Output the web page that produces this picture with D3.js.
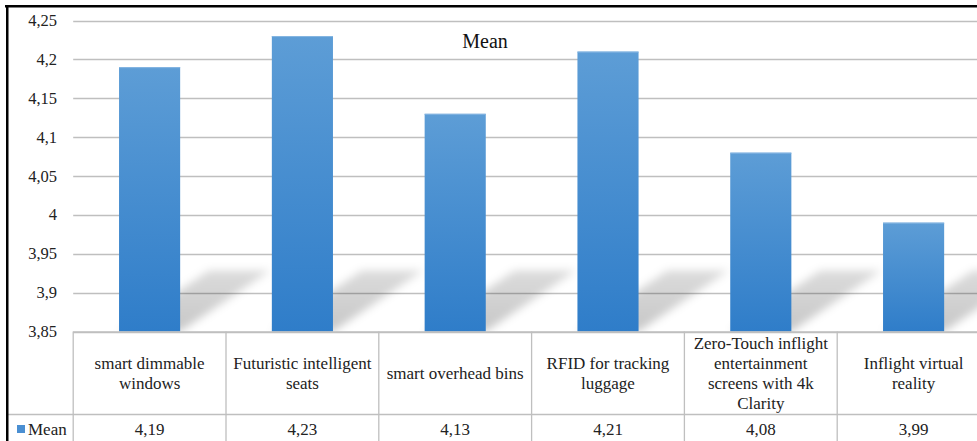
<!DOCTYPE html>
<html>
<head>
<meta charset="utf-8">
<script src="https://cdn.jsdelivr.net/npm/d3@7"></script>
<style>
  html, body { margin: 0; padding: 0; background: #fff; }
  svg { display: block; }
</style>
</head>
<body>
<svg id="chart" width="977" height="441"></svg>
<script>
// ---- data ----
const chartTitle = "Mean";
const seriesName = "Mean";
const categories = [
  "smart dimmable\nwindows",
  "Futuristic intelligent\nseats",
  "smart overhead bins",
  "RFID for tracking\nluggage",
  "Zero-Touch inflight\nentertainment\nscreens with 4k\nClarity",
  "Inflight virtual\nreality"
];
const meanValues = [4.19, 4.23, 4.13, 4.21, 4.08, 3.99];
const yTicks = [3.85, 3.9, 3.95, 4, 4.05, 4.1, 4.15, 4.2, 4.25];
const yDomain = [3.85, 4.25];

// ---- layout ----
const W = 977, H = 441;
const FONT = "Liberation Serif";
const plotLeft = 73.2, plotRight = 990, plotTop = 20.5, plotBottom = 331.5;
const tableRowSplit = 414.5, tableBottom = 441;
const gridColor = "#bfbfbf";

const svg = d3.select("#chart");
const locale = d3.formatLocale({decimal: ",", thousands: " ", grouping: [3], currency: ["", ""]});
const fmtTick = locale.format("~f");
const fmtVal = locale.format(".2f");

const x = d3.scaleBand().domain(categories).range([plotLeft, plotRight]).paddingInner(0.6).paddingOuter(0.3);
const xCell = d3.scaleBand().domain(categories).range([plotLeft, plotRight]).padding(0);
const y = d3.scaleLinear().domain(yDomain).range([plotBottom, plotTop]);

const defs = svg.append("defs");
const grad = defs.append("linearGradient").attr("id", "barGrad")
  .attr("x1", 0).attr("y1", 0).attr("x2", 0).attr("y2", 1);
grad.append("stop").attr("offset", "0%").attr("stop-color", "#5d9dd6");
grad.append("stop").attr("offset", "100%").attr("stop-color", "#2f7dc9");

const blur = defs.append("filter").attr("id", "shBlur")
  .attr("x", "-30%").attr("y", "-30%").attr("width", "160%").attr("height", "160%");
blur.append("feGaussianBlur").attr("stdDeviation", 4);

const shGrad = defs.append("linearGradient").attr("id", "shGrad")
  .attr("x1", 0).attr("y1", 0).attr("x2", 0).attr("y2", 1);
shGrad.append("stop").attr("offset", "0%").attr("stop-color", "#000").attr("stop-opacity", 0.14);
shGrad.append("stop").attr("offset", "100%").attr("stop-color", "#000").attr("stop-opacity", 0.22);

const clip = defs.append("clipPath").attr("id", "plotClip");
clip.append("rect").attr("x", plotLeft).attr("y", plotTop - 5)
  .attr("width", plotRight - plotLeft).attr("height", plotBottom - plotTop + 5);

// gridlines
svg.append("g").selectAll("line").data(yTicks).join("line")
  .attr("x1", plotLeft).attr("x2", W)
  .attr("y1", d => Math.round(y(d)) + 0.5).attr("y2", d => Math.round(y(d)) + 0.5)
  .attr("stroke", gridColor).attr("stroke-width", 1.3);

// y axis labels
svg.append("g").selectAll("text").data(yTicks).join("text")
  .style("font-family", FONT)
  .attr("x", 57).attr("y", d => y(d) + 5.5)
  .attr("text-anchor", "end").attr("font-size", 16.5).attr("fill", "#222")
  .text(d => fmtTick(d));

// shadows
const shH = 61, shDx = 90;
svg.append("g").attr("clip-path", "url(#plotClip)")
  .selectAll("path").data(meanValues).join("path")
  .attr("d", (d, i) => {
    const x0 = x(categories[i]), x1 = x0 + x.bandwidth();
    const yb = y(yDomain[0]), yt = yb - shH;
    return `M${x0},${yb}L${x1},${yb}L${x1 + shDx},${yt}L${x0 + shDx},${yt}Z`;
  })
  .attr("fill", "url(#shGrad)")
  .attr("filter", "url(#shBlur)");

// bars
svg.append("g").selectAll("rect").data(meanValues).join("rect")
  .attr("x", (d, i) => x(categories[i]))
  .attr("y", d => y(d))
  .attr("width", x.bandwidth())
  .attr("height", d => y(yDomain[0]) - y(d))
  .attr("fill", "url(#barGrad)");
svg.append("g").selectAll("line").data(meanValues).join("line")
  .attr("x1", (d, i) => x(categories[i])).attr("x2", (d, i) => x(categories[i]) + x.bandwidth())
  .attr("y1", d => y(d) + 0.5).attr("y2", d => y(d) + 0.5)
  .attr("stroke", "#86b6e2").attr("stroke-width", 1);

// title
svg.append("text").style("font-family", FONT).attr("x", 485).attr("y", 47.5).attr("text-anchor", "middle")
  .attr("font-size", 20).attr("fill", "#111").text(chartTitle);

// data table lines
const tbl = svg.append("g").attr("stroke", gridColor).attr("stroke-width", 1.3);
tbl.append("line").attr("x1", plotLeft).attr("x2", W).attr("y1", plotBottom + 0.5).attr("y2", plotBottom + 0.5);
tbl.append("line").attr("x1", 8).attr("x2", W).attr("y1", tableRowSplit).attr("y2", tableRowSplit);
const bounds = categories.map(c => xCell(c)).concat([plotRight]);
tbl.selectAll("line.v").data(bounds).join("line").attr("class", "v")
  .attr("x1", d => d).attr("x2", d => d).attr("y1", plotBottom).attr("y2", tableBottom);

// category labels
const lineH = 20;
const catCenterY = (plotBottom + tableRowSplit) / 2;
svg.append("g").selectAll("text").data(categories).join("text")
  .style("font-family", FONT)
  .attr("text-anchor", "middle").attr("font-size", 17).attr("fill", "#222")
  .each(function(d) {
    const lines = d.split("\n");
    const cx = xCell(d) + xCell.bandwidth() / 2;
    const startY = catCenterY - (lines.length - 1) * lineH / 2 + 6;
    d3.select(this).selectAll("tspan").data(lines).join("tspan")
      .attr("x", cx).attr("y", (l, j) => startY + j * lineH).text(l => l);
  });

// values row
svg.append("g").selectAll("text").data(meanValues).join("text")
  .style("font-family", FONT)
  .attr("x", (d, i) => xCell(categories[i]) + xCell.bandwidth() / 2)
  .attr("y", 435).attr("text-anchor", "middle").attr("font-size", 17).attr("fill", "#222")
  .text(d => fmtVal(d));

// legend key in table
svg.append("rect").attr("x", 17).attr("y", 425).attr("width", 8).attr("height", 8).attr("fill", "#4a8fd2");
svg.append("text").style("font-family", FONT).attr("x", 28).attr("y", 435).attr("font-size", 17).attr("fill", "#222").text(seriesName);

// outer black frame (cropped)
svg.append("rect").attr("x", 5).attr("y", 5).attr("width", W - 5).attr("height", 2.5).attr("fill", "#000");
svg.append("rect").attr("x", 6).attr("y", 5).attr("width", 2.5).attr("height", H - 5).attr("fill", "#000");
</script>
</body>
</html>
